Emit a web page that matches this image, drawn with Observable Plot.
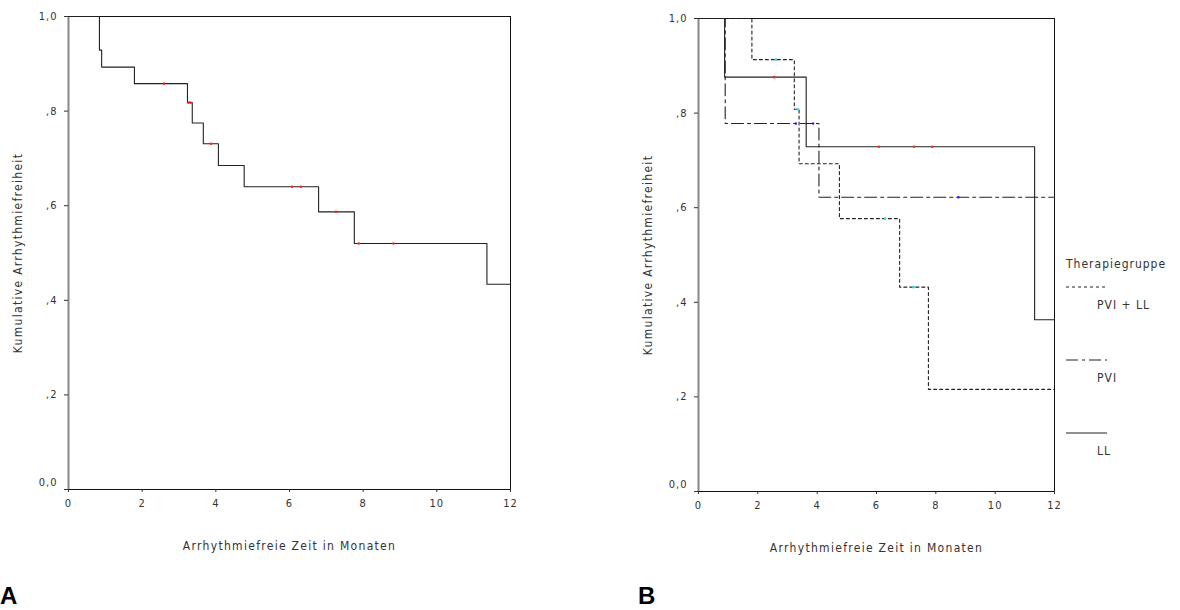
<!DOCTYPE html>
<html>
<head>
<meta charset="utf-8">
<script src="https://cdn.jsdelivr.net/npm/d3@7"></script>
<script src="https://cdn.jsdelivr.net/npm/@observablehq/plot@0.6"></script>
<style>
  html, body { margin: 0; padding: 0; background: #fff; }
  body { width: 1180px; height: 610px; position: relative; overflow: hidden; }
  .panel { position: absolute; top: 0; }
  .panel svg text, #legend text { letter-spacing: 1px; }
  .panel svg g[aria-label="x-axis label"] text, .panel svg g[aria-label="y-axis label"] text { font-size: 12px; letter-spacing: 1.3px; }
  .tag { position: absolute; font-family: "Liberation Sans", Arial, sans-serif; font-weight: bold; font-size: 24px; color: #000; line-height: 1; }
</style>
</head>
<body>
<div id="A" class="panel" style="left:0px"></div>
<div id="B" class="panel" style="left:630px"></div>
<svg id="legend" width="130" height="230" style="position:absolute;left:1050px;top:240px"></svg>
<div class="tag" style="left:0px;top:584px">A</div>
<div class="tag" style="left:638px;top:584px">B</div>
<script>
// ---------- data ----------
const xTicks = [0, 2, 4, 6, 8, 10, 12];
const yTicks = [0, 0.2, 0.4, 0.6, 0.8, 1.0];
const yTickLabels = ["0,0", ",2", ",4", ",6", ",8", "1,0"];
const xLabel = "Arrhythmiefreie Zeit in Monaten";
const yLabel = "Kumulative Arrhythmiefreiheit";
const legendTitle = "Therapiegruppe";
const groups = ["PVI + LL", "PVI", "LL"];

// Panel A – all patients
const aTime = [0, 0.84, 0.90, 1.79, 3.23, 3.36, 3.66, 4.07, 4.77, 6.79, 7.76, 11.36, 12];
const aSurv = [1.0, 0.929, 0.893, 0.858, 0.818, 0.775, 0.731, 0.685, 0.640, 0.587, 0.520, 0.434, 0.434];
const aCens = [2.59, 3.26, 3.31, 3.87, 6.07, 6.31, 7.26, 7.88, 8.82];

// Panel B – by therapy group
const pvillTime = [0, 1.80, 3.23, 3.39, 4.75, 6.78, 7.75, 12];
const pvillSurv = [1.0, 0.913, 0.808, 0.693, 0.577, 0.432, 0.216, 0.216];
const pvillCens = [2.61, 3.35, 6.29, 7.25];

const pviTime = [0, 0.90, 4.06, 12];
const pviSurv = [1.0, 0.778, 0.622, 0.622];
const pviCens = [3.28, 3.86, 8.76];

const llTime = [0, 0.88, 3.63, 11.33, 12];
const llSurv = [1.0, 0.876, 0.729, 0.363, 0.363];
const llCens = [2.55, 6.08, 7.27, 7.88];

// ---------- helpers ----------
const FONT = '"Liberation Sans Narrow", "Arial Narrow", "DejaVu Sans Condensed", sans-serif';
const INK = "#222";
const dashes = {"PVI + LL": "3,3", "PVI": "12,4,3,4", "LL": null};
const censColor = {"A": "#ff2020", "PVI + LL": "#20e0e0", "PVI": "#2020ff", "LL": "#ff2020"};

function rows(time, surv) { return time.map((t, i) => ({t, s: surv[i]})); }
function survAt(time, surv, t) { let s = surv[0]; for (let i = 0; i < time.length; i++) if (time[i] <= t) s = surv[i]; return s; }
function censRows(time, surv, cens) { return cens.map(t => ({t, s: survAt(time, surv, t)})); }

const yLabelRows = yTicks.map((v, i) => ({v, label: yTickLabels[i]}));

function panel(series, opts) {
  const marks = [
    Plot.frame({stroke: "#111"}),
    Plot.ruleX([0], {stroke: "#888", strokeWidth: 2}),
    Plot.axisX({ticks: xTicks, tickSize: 3, tickPadding: 7, label: xLabel, labelAnchor: "center", labelOffset: 60, labelArrow: "none", tickFormat: d => String(d)}),
    Plot.axisY({ticks: yTicks, tickSize: 4, tickFormat: () => "", label: yLabel, labelAnchor: "center", labelOffset: 55, labelArrow: "none"}),
    Plot.text(yLabelRows.filter(d => d.v !== 0), {y: "v", text: "label", frameAnchor: "left", textAnchor: "end", dx: -11, fill: "#333"}),
    Plot.text(yLabelRows.filter(d => d.v === 0), {y: "v", text: "label", frameAnchor: "left", textAnchor: "end", dx: -11, dy: -7, fill: "#333"})
  ];
  for (const s of series) {
    marks.push(Plot.line(s.line, {x: "t", y: "s", curve: "step-after", stroke: INK, strokeWidth: 1.1, strokeDasharray: s.dash || undefined}));
  }
  for (const s of series) {
    marks.push(Plot.dot(s.cens, {x: "t", y: "s", r: 1.3, fill: s.color, stroke: "none"}));
  }
  return Plot.plot({
    width: opts.width, height: 560,
    marginLeft: opts.marginLeft, marginRight: opts.marginRight,
    marginTop: opts.marginTop, marginBottom: opts.marginBottom,
    x: {domain: [0, 12]},
    y: {domain: [0, 1]},
    style: {fontFamily: FONT, fontSize: "11px", color: "#333", background: "#fff", overflow: "visible"},
    marks
  });
}

document.getElementById("A").append(panel([
  {line: rows(aTime, aSurv), cens: censRows(aTime, aSurv, aCens), color: censColor["A"], dash: null}
], {width: 530, marginLeft: 68, marginRight: 20, marginTop: 16, marginBottom: 71}));

document.getElementById("B").append(panel([
  {line: rows(pvillTime, pvillSurv), cens: censRows(pvillTime, pvillSurv, pvillCens), color: censColor["PVI + LL"], dash: dashes["PVI + LL"]},
  {line: rows(pviTime, pviSurv), cens: censRows(pviTime, pviSurv, pviCens), color: censColor["PVI"], dash: dashes["PVI"]},
  {line: rows(llTime, llSurv), cens: censRows(llTime, llSurv, llCens), color: censColor["LL"], dash: dashes["LL"]}
], {width: 440, marginLeft: 68, marginRight: 16, marginTop: 18, marginBottom: 69}));

// ---------- legend ----------
const lg = d3.select("#legend").style("font-family", FONT).style("font-size", "12px");
lg.append("text").attr("x", 16).attr("y", 28).attr("fill", "#333").text(legendTitle);
groups.forEach((g, i) => {
  const y0 = 47 + i * 73;
  lg.append("line").attr("x1", 16).attr("x2", 57).attr("y1", y0).attr("y2", y0)
    .attr("stroke", INK).attr("stroke-width", 1.1)
    .attr("stroke-dasharray", dashes[g] || null);
  lg.append("text").attr("x", 47).attr("y", y0 + 22).attr("fill", "#333").text(g);
});
</script>
</body>
</html>
